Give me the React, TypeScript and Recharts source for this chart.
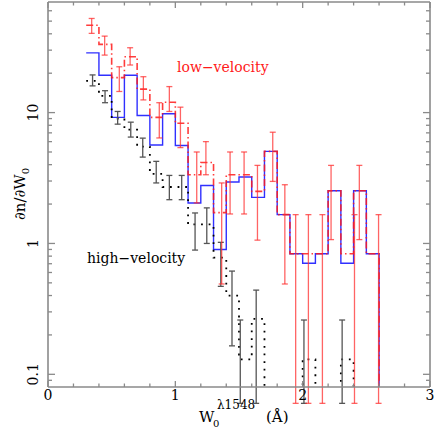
import React from 'react';
import { ComposedChart, Line, Scatter, ErrorBar, XAxis, YAxis } from 'recharts';

const SERIF = '"DejaVu Serif", serif';
const FRAME = '#8a8a8a';
const BOTTOM = 0.06; // zero counts: drawn below the axis and clipped

// histogram bin edges (left edge of each 0.1 A bin)
const allEdges = [0.3, 0.4, 0.5, 0.6, 0.7, 0.8, 0.9, 1.0, 1.1, 1.2, 1.3, 1.4, 1.5, 1.6, 1.7, 1.8, 1.9, 2.0, 2.1, 2.2, 2.3, 2.4, 2.5, 2.6];
const allRate = [28.6, 19.3, 9.2, 19.3, 9.5, 5.65, 9.8, 5.6, 2.04, 2.77, 0.9, 2.95, 3.22, 2.25, 5.05, 1.66, 0.835, 0.705, 0.835, 2.53, 0.705, 2.53, 0.835];
const lowRate = [46.5, 33.2, 18.5, 26.7, 15.1, 9.2, 12.0, 8.3, 3.35, 4.16, 1.72, 3.35, 3.35, 2.5, 5.05, 1.66, 0.835, 0.835, 0.835, 2.53, 0.835, 2.53, 0.835];

const highEdges = [0.3, 0.4, 0.5, 0.6, 0.7, 0.8, 0.9, 1.0, 1.1, 1.2, 1.3, 1.4, 1.5, 1.6, 1.7, 1.8, 1.9, 2.0, 2.1, 2.2, 2.3, 2.4];
const highRate = [17.5, 13.4, 9.0, 7.4, 5.5, 3.4, 2.7, 2.7, 1.4, 1.4, 0.78, 0.4, 0.13, 0.265, 0, 0, 0, 0.13, 0, 0, 0.13];

// error bars: position, value, lower and upper limit (0 = runs off the bottom)
const lowErrX = [0.343, 0.445, 0.56, 0.645, 0.749, 0.874, 0.953, 1.04, 1.168, 1.24, 1.364, 1.43, 1.54, 1.645, 1.765, 1.86, 1.945, 2.045, 2.155, 2.223, 2.407, 2.445, 2.596];
const lowErrY = [46.5, 33.2, 18.5, 26.7, 15.1, 9.2, 12.0, 8.3, 3.35, 4.16, 1.72, 3.35, 3.35, 2.5, 5.05, 1.66, 0.835, 0.835, 0.835, 2.53, 0.835, 2.53, 0.835];
const lowErrLo = [40.3, 27.5, 14.5, 23.1, 12.5, 6.4, 10.2, 5.4, 2.04, 3.35, 0.49, 1.68, 1.68, 1.06, 2.98, 0.49, 0, 0, 0, 1.07, 0, 1.07, 0];
const lowErrHi = [52.4, 38.4, 22.4, 31.3, 18.8, 11.9, 15.8, 11.0, 5.0, 6.0, 2.9, 5.0, 5.0, 3.95, 7.08, 2.81, 1.66, 1.66, 1.66, 3.95, 1.66, 3.95, 1.66];

const highErrX = [0.35, 0.448, 0.547, 0.65, 0.744, 0.85, 0.953, 1.05, 1.155, 1.247, 1.357, 1.445, 1.51, 1.635, 2.01, 2.31];
const highErrY = [17.5, 13.4, 9.0, 7.4, 5.5, 3.4, 2.7, 2.7, 1.4, 1.4, 0.78, 0.4, 0.13, 0.265, 0.13, 0.13];
const highErrLo = [16.0, 11.9, 8.16, 6.5, 4.57, 2.9, 2.16, 2.16, 0.89, 1.0, 0.47, 0.165, 0, 0, 0, 0];
const highErrHi = [19.4, 14.7, 10.2, 8.45, 6.38, 4.24, 3.31, 3.31, 1.71, 1.87, 1.02, 0.615, 0.26, 0.44, 0.26, 0.26];

const xTicks = [0, 0.2, 0.4, 0.6, 0.8, 1, 1.2, 1.4, 1.6, 1.8, 2, 2.2, 2.4, 2.6, 2.8, 3];
const xLabels = [0, 1, 2, 3];
const yTicks = [0.09, 0.1, 0.2, 0.3, 0.4, 0.5, 0.6, 0.7, 0.8, 0.9, 1, 2, 3, 4, 5, 6, 7, 8, 9, 10, 20, 30, 40, 50, 60];
const yLabels = [0.1, 1, 10];

const steps = (edges: number[], rate: number[]) =>
  edges.map((x, i) => ({ x, y: i < rate.length && rate[i] > 0 ? rate[i] : BOTTOM }));

const bars = (xs: number[], ys: number[], lo: number[], hi: number[]) =>
  xs.map((x, i) => ({ x, y: ys[i], err: [ys[i] - (lo[i] > 0 ? lo[i] : BOTTOM), hi[i] - ys[i]] }));

const allSteps = steps(allEdges, allRate);
const lowSteps = steps(allEdges, lowRate);
const highSteps = steps(highEdges, highRate);
const lowBars = bars(lowErrX, lowErrY, lowErrLo, lowErrHi);
const highBars = bars(highErrX, highErrY, highErrLo, highErrHi);

type TickProps = { x?: number; y?: number; payload?: { value: number } };

const BottomTick = ({ x = 0, y = 0, payload }: TickProps) => {
  const v = payload?.value ?? 0;
  const major = xLabels.includes(v);
  return (
    <g>
      <line x1={x} x2={x} y1={y} y2={y - (major ? 6 : 3.5)} stroke={FRAME} strokeWidth={1.3} />
      {major && (
        <text x={x} y={y + 13} textAnchor="middle" fontSize={14} fontFamily={SERIF} fill="#000">
          {v}
        </text>
      )}
    </g>
  );
};

const TopTick = ({ x = 0, y = 0, payload }: TickProps) => {
  const major = xLabels.includes(payload?.value ?? 0);
  return <line x1={x} x2={x} y1={y} y2={y + (major ? 6 : 3.5)} stroke={FRAME} strokeWidth={1.3} />;
};

const LeftTick = ({ x = 0, y = 0, payload }: TickProps) => {
  const v = payload?.value ?? 0;
  const major = yLabels.includes(v);
  return (
    <g>
      <line x1={x} x2={x + (major ? 7 : 4)} y1={y} y2={y} stroke={FRAME} strokeWidth={1.3} />
      {major && (
        <text transform={`translate(${x - 10},${y}) rotate(-90)`} textAnchor="middle" fontSize={14} fontFamily={SERIF} fill="#000">
          {v}
        </text>
      )}
    </g>
  );
};

const RightTick = ({ x = 0, y = 0, payload }: TickProps) => {
  const major = yLabels.includes(payload?.value ?? 0);
  return <line x1={x} x2={x - (major ? 7 : 4)} y1={y} y2={y} stroke={FRAME} strokeWidth={1.3} />;
};

const noDot = () => <g />;

export default function App() {
  const axisLine = { stroke: FRAME, strokeWidth: 1.6 };
  return (
    <div style={{ position: 'absolute', left: 0, top: 0, width: 436, height: 430, background: '#fff' }}>
      <ComposedChart width={436} height={430} margin={{ top: 0, right: 0, bottom: 13, left: 8 }}>
        <XAxis dataKey="x" type="number" domain={[0, 3]} allowDataOverflow ticks={xTicks} interval={0}
          tickSize={0} tickMargin={0} tickLine={false} axisLine={axisLine} height={30} tick={BottomTick} />
        <XAxis xAxisId="t" orientation="top" dataKey="x" type="number" domain={[0, 3]} allowDataOverflow ticks={xTicks}
          interval={0} tickSize={0} tickMargin={0} tickLine={false} axisLine={axisLine} height={2} tick={TopTick} />
        <YAxis type="number" scale="log" domain={[0.08, 70]} allowDataOverflow ticks={yTicks} interval={0}
          tickSize={0} tickMargin={0} tickLine={false} axisLine={axisLine} width={40} tick={LeftTick} />
        <YAxis yAxisId="r" orientation="right" type="number" scale="log" domain={[0.08, 70]} allowDataOverflow
          ticks={yTicks} interval={0} tickSize={0} tickMargin={0} tickLine={false} axisLine={axisLine} width={6} tick={RightTick} />

        <Line data={allSteps} dataKey="y" type="stepAfter" stroke="#3030ff" strokeWidth={1.4} dot={false}
          isAnimationActive={false} />
        <Line data={highSteps} dataKey="y" type="stepAfter" stroke="#000" strokeWidth={1.8} strokeDasharray="1.8 5.8"
          dot={false} isAnimationActive={false} />
        <Scatter data={highBars} dataKey="y" shape={noDot} isAnimationActive={false}>
          <ErrorBar dataKey="err" direction="y" width={3} stroke="#555" strokeWidth={1.3} isAnimationActive={false} />
        </Scatter>
        <Line data={lowSteps} dataKey="y" type="stepAfter" stroke="#ff1a1a" strokeOpacity={0.85} strokeWidth={1.6}
          strokeDasharray="7 3 1.5 3" dot={false} isAnimationActive={false} />
        <Scatter data={lowBars} dataKey="y" shape={noDot} isAnimationActive={false}>
          <ErrorBar dataKey="err" direction="y" width={3} stroke="#ff3030" strokeOpacity={0.75} strokeWidth={1.3}
            isAnimationActive={false} />
        </Scatter>
      </ComposedChart>
      <svg width={436} height={430} style={{ position: 'absolute', left: 0, top: 0, pointerEvents: 'none' }}>
        <text x={177} y={72} fontSize={14} fontFamily={SERIF} fill="#ff1a1a">low−velocity</text>
        <text x={87} y={263} fontSize={14} fontFamily={SERIF} fill="#000">high−velocity</text>
        <text transform="translate(25,194) rotate(-90)" textAnchor="middle" fontSize={15} fontFamily={SERIF} fill="#000">
          ∂n/∂W<tspan dy={4} fontSize={10}>0</tspan>
        </text>
        <text x={199} y={422} fontSize={15} fontFamily={SERIF} fill="#000">W</text>
        <text x={213} y={427} fontSize={10} fontFamily={SERIF} fill="#000">0</text>
        <text x={217} y={409} fontSize={12} fontFamily={SERIF} fill="#000">λ1548</text>
        <text x={266} y={422} fontSize={15} fontFamily={SERIF} fill="#000">(Å)</text>
      </svg>
    </div>
  );
}
